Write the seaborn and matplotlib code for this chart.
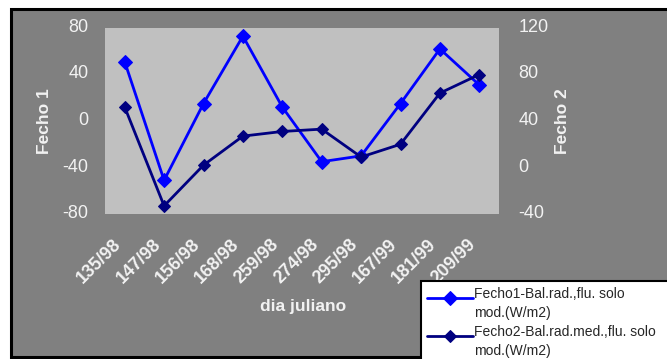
import numpy as np
import pandas as pd
import matplotlib
matplotlib.use("Agg")
import matplotlib.pyplot as plt
import matplotlib.transforms as mtransforms
from matplotlib.patches import Rectangle
from matplotlib.legend_handler import HandlerLine2D
import seaborn as sns

# Julian day of each campaign
dias = ["135/98", "147/98", "156/98", "168/98", "259/98",
        "274/98", "295/98", "167/99", "181/99", "209/99"]
# Radiation balance / soil flux, W/m2
fecho1 = [51, -51, 15, 73, 12, -35, -30, 15, 62, 31]
fecho2 = [52, -33, 2, 27, 31, 33, 9, 20, 64, 80]

label1 = "Fecho1-Bal.rad.,flu. solo\nmod.(W/m2)"
label2 = "Fecho2-Bal.rad.med.,flu. solo\nmod.(W/m2)"

sns.set_theme(style="white")
plt.rcParams["font.family"] = ["Liberation Sans", "DejaVu Sans"]
plt.rcParams["axes.unicode_minus"] = False

df = pd.DataFrame({"pos": np.arange(len(dias)), "dia": dias,
                   "fecho1": fecho1, "fecho2": fecho2})

W, H = 667, 359
fig = plt.figure(figsize=(W / 100, H / 100), dpi=100, facecolor="white")

# grey chart area with black frame
fig.patches.append(Rectangle((11 / W, 1 - 357 / H), 1.2, (357 - 9) / H,
                             transform=fig.transFigure, facecolor="#808080",
                             edgecolor="black", linewidth=2.2, zorder=-5))

ax = fig.add_axes([105 / W, 1 - 214 / H, (499 - 105) / W, (214 - 28) / H])
ax.set_facecolor("#C0C0C0")
ax2 = ax.twinx()

sns.lineplot(data=df, x="pos", y="fecho1", ax=ax, color="#0000FF",
             marker="D", markersize=7, markeredgecolor="#0000FF",
             linewidth=2, sort=False, label=label1, legend=False)
sns.lineplot(data=df, x="pos", y="fecho2", ax=ax2, color="#000080",
             marker="D", markersize=6.5, markeredgecolor="#000080",
             linewidth=2, sort=False, label=label2, legend=False)

txt = "#F2F2F2"
ax.set_xlim(-0.5, len(dias) - 0.5)
ax.set_ylim(-80, 80)
ax.set_yticks(np.arange(-80, 81, 40))
ax2.set_ylim(-40, 120)
ax2.set_yticks(np.arange(-40, 121, 40))

ax.set_xticks(df["pos"])
ax.set_xticklabels(dias, rotation=45, ha="right", va="top",
                   rotation_mode="anchor", fontsize=12.3,
                   fontweight="bold", color=txt)
for a in (ax, ax2):
    a.tick_params(axis="both", length=0, labelsize=13, colors=txt)
    for s in a.spines.values():
        s.set_visible(False)
ax.tick_params(axis="x", pad=16)
ax.tick_params(axis="y", pad=12)
ax2.tick_params(axis="y", pad=14)

# nudge tick labels: x labels left, y labels up
shift_x = mtransforms.ScaledTranslation(-12 / 100, 0, fig.dpi_scale_trans)
for lab in ax.get_xticklabels():
    lab.set_transform(lab.get_transform() + shift_x)
shift_y = mtransforms.ScaledTranslation(0, 2.5 / 100, fig.dpi_scale_trans)
for lab in ax.get_yticklabels() + ax2.get_yticklabels():
    lab.set_transform(lab.get_transform() + shift_y)

ax.set_xlabel("dia juliano", fontsize=12.5, fontweight="bold", color=txt)
ax.xaxis.set_label_coords((303 - 105) / (499 - 105), -(299 - 214) / (214 - 28))
ax.set_ylabel("Fecho 1", fontsize=12.5, fontweight="bold", color=txt)
ax.yaxis.set_label_coords(-(105 - 52) / (499 - 105), 0.5)
ax2.set_ylabel("Fecho 2", fontsize=12.5, fontweight="bold", color=txt)
ax2.yaxis.set_label_coords((555 - 105) / (499 - 105), 0.5)


class TopLineHandler(HandlerLine2D):
    """Line handle aligned with the first line of a two-line label."""
    def create_artists(self, legend, orig_handle, xdescent, ydescent,
                       width, height, fontsize, trans):
        return super().create_artists(legend, orig_handle, xdescent,
                                      ydescent - 0.85 * fontsize, width,
                                      height, fontsize, trans)


handles = ax.get_lines()[:1] + ax2.get_lines()[:1]
# legend box runs past the right edge of the figure
leg = fig.legend(handles, [label1, label2], loc="upper left",
                 bbox_to_anchor=(421 / W, 1 - 281 / H - 0.2, 300 / W, 0.2),
                 mode="expand",
                 frameon=True, fancybox=False, framealpha=1,
                 edgecolor="black", facecolor="white", fontsize=10,
                 handlelength=3.3, handletextpad=0.1, borderpad=0.45,
                 labelspacing=0.4, borderaxespad=0,
                 handler_map={h: TopLineHandler() for h in handles})
leg.get_frame().set_linewidth(1.5)
for t in leg.get_texts():
    t.set_linespacing(1.4)

fig.savefig("out.png", dpi=100, facecolor="white")
